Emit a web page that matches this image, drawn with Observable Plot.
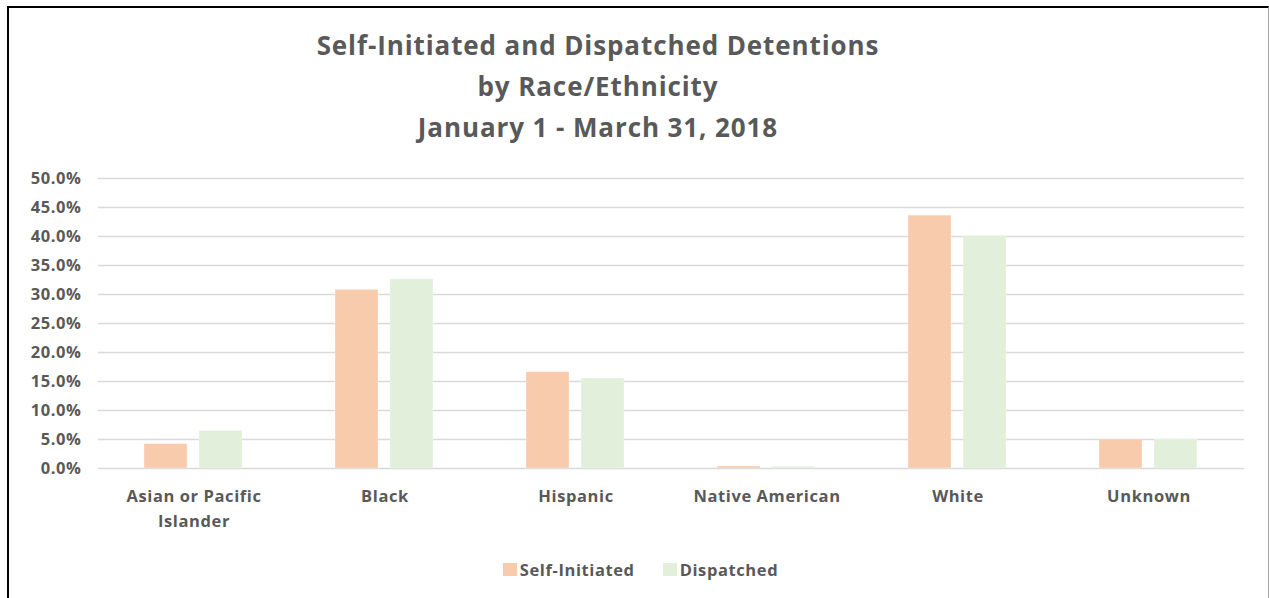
<!DOCTYPE html>
<html>
<head>
<meta charset="utf-8">
<script src="https://cdn.jsdelivr.net/npm/d3@7"></script>
<script src="https://cdn.jsdelivr.net/npm/@observablehq/plot@0.6"></script>
<style>
  html, body { margin: 0; padding: 0; background: #fff; }
  body { width: 1269px; height: 598px; position: relative; overflow: hidden; font-family: "Open Sans", Lato, sans-serif; }
  #frame { position: absolute; left: 7px; top: 6px; width: 1259px; height: 620px; border-top: 2px solid #000; border-left: 2px solid #000; border-right: 1px solid #a6a6a6; }
  #title { position: absolute; left: 248px; width: 700px; top: 25px; text-align: center; font-size: 26px; letter-spacing: 0.9px; line-height: 41px; font-weight: bold; color: #595959; }
  #chart { position: absolute; left: 0; top: 160px; }
  #chart svg text { letter-spacing: 0.6px; }
  #chart svg g[aria-label="y-axis tick label"] text { letter-spacing: 1.6px; font-size: 17px; }
  #legend { position: absolute; top: 558px; left: 0; width: 1269px; display: flex; justify-content: center; padding-left: 12px; box-sizing: border-box; font-size: 16.5px; letter-spacing: 0.6px; font-weight: bold; color: #595959; }
  .item { display: flex; align-items: center; margin: 0 14px; }
  .sw { width: 14px; height: 13px; margin-right: 3px; }
</style>
</head>
<body>
<div id="frame"></div>
<div id="title">Self-Initiated and Dispatched Detentions<br>by Race/Ethnicity<br>January 1 - March 31, 2018</div>
<div id="chart"></div>
<div id="legend"></div>
<script>
const categories = ["Asian or Pacific Islander", "Black", "Hispanic", "Native American", "White", "Unknown"];
const categoryLabels = ["Asian or Pacific\nIslander", "Black", "Hispanic", "Native American", "White", "Unknown"];
const seriesNames = ["Self-Initiated", "Dispatched"];
const seriesColors = ["#f8cbad", "#e2efda"];
const selfInitiated = [4.2, 30.8, 16.6, 0.35, 43.6, 5.0];
const dispatched = [6.5, 32.6, 15.5, 0.3, 40.1, 5.0];
const yTicks = [0, 5, 10, 15, 20, 25, 30, 35, 40, 45, 50];

const data = [];
categories.forEach((c, i) => {
  data.push({race: c, series: seriesNames[0], value: selfInitiated[i]});
  data.push({race: c, series: seriesNames[1], value: dispatched[i]});
});
const labelOf = new Map(categories.map((c, i) => [c, categoryLabels[i]]));

const chart = Plot.plot({
  width: 1269,
  height: 390,
  marginTop: 18,
  marginLeft: 98,
  marginRight: 25,
  marginBottom: 82,
  style: {fontFamily: "'Open Sans', Lato, sans-serif", fontSize: "16.5px", fontWeight: "bold", color: "#595959", background: "transparent"},
  fx: {domain: categories, padding: 0},
  x: {domain: seriesNames, paddingInner: 0.218, paddingOuter: 0.845},
  y: {domain: [0, 50]},
  color: {domain: seriesNames, range: seriesColors},
  marks: [
    Plot.gridY(yTicks, {stroke: "#d9d9d9", strokeOpacity: 1, strokeWidth: 1.5}),
    Plot.barY(data, {fx: "race", x: "series", y: "value", fill: "series", stroke: "#ffffff", strokeOpacity: 0.5, strokeWidth: 0.6}),
    Plot.axisY({ticks: yTicks, tickSize: 0, tickPadding: 17, tickFormat: d => d.toFixed(1) + "%", label: null, fill: "#595959", ariaLabel: "y-axis tick label"}),
    Plot.axisX({ticks: [], label: null}),
    Plot.axisFx({anchor: "bottom", tickSize: 0, tickPadding: 16, label: null, tickFormat: d => labelOf.get(d), lineHeight: 1.5, fill: "#595959"})
  ]
});
document.getElementById("chart").appendChild(chart);

const legend = document.getElementById("legend");
seriesNames.forEach((s, i) => {
  const item = document.createElement("div");
  item.className = "item";
  const sw = document.createElement("span");
  sw.className = "sw";
  sw.style.background = seriesColors[i];
  const t = document.createElement("span");
  t.textContent = s;
  item.appendChild(sw);
  item.appendChild(t);
  legend.appendChild(item);
});
</script>
</body>
</html>
